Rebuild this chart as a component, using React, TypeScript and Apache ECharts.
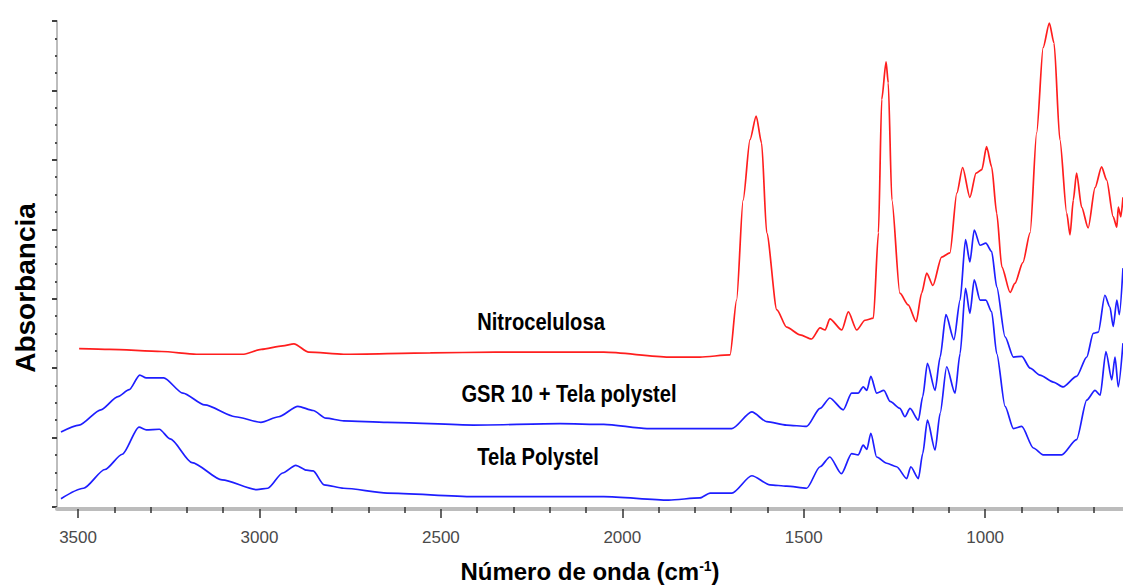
import React, { useEffect, useRef } from "react";
import * as echarts from "echarts";

// Wavenumber axis (cm-1), drawn reversed
const xMin = 620;
const xMax = 3558;
const majorTicks = [1000, 1500, 2000, 2500, 3000, 3500];
const minorTicks = [
  700, 800, 900, 1100, 1200, 1300, 1400, 1600, 1700, 1800, 1900, 2100, 2200,
  2300, 2400, 2600, 2700, 2800, 2900, 3100, 3200, 3300, 3400,
];
const yMin = 0;
const yMax = 7;

const seriesNames = ["Nitrocelulosa", "GSR 10 + Tela polystel", "Tela Polystel"];

// [wavenumber, absorbance (arbitrary, offset)]
const nitrocelulosa: [number, number][] = [
  [3497, 2.28], [3413, 2.27], [3270, 2.24], [3174, 2.2], [3043, 2.2], [2995, 2.27],
  [2936, 2.32], [2905, 2.35], [2864, 2.23], [2768, 2.2], [2529, 2.22], [2350, 2.23],
  [2051, 2.23], [1872, 2.16], [1786, 2.16], [1703, 2.19], [1685, 2.98], [1667, 4.42],
  [1648, 5.29], [1631, 5.63], [1616, 5.24], [1602, 3.95], [1574, 2.84], [1547, 2.59],
  [1510, 2.48], [1478, 2.42], [1455, 2.58], [1441, 2.55], [1428, 2.71], [1395, 2.55],
  [1377, 2.81], [1354, 2.55], [1331, 2.69], [1308, 2.72], [1294, 3.95], [1285, 5.87],
  [1273, 6.41], [1267, 6.11], [1257, 4.42], [1235, 3.08], [1212, 2.91], [1190, 2.67],
  [1175, 3.08], [1161, 3.37], [1144, 3.19], [1120, 3.6], [1097, 3.66], [1078, 4.52],
  [1062, 4.89], [1042, 4.46], [1025, 4.81], [1009, 4.86], [996, 5.19], [982, 4.9],
  [968, 4.23], [954, 3.46], [931, 3.09], [918, 3.22], [896, 3.52], [876, 3.95],
  [858, 5.39], [840, 6.62], [823, 6.97], [810, 6.68], [794, 5.29], [775, 4.23],
  [766, 3.92], [757, 4.42], [748, 4.81], [734, 4.32], [716, 4.02], [697, 4.6],
  [679, 4.9], [665, 4.71], [647, 4.18], [637, 4.03], [633, 4.32], [626, 4.18], [620, 4.46],
];

const gsrTela: [number, number][] = [
  [3547, 1.08], [3497, 1.18], [3437, 1.4], [3390, 1.59], [3359, 1.69], [3330, 1.9],
  [3312, 1.86], [3264, 1.86], [3211, 1.64], [3151, 1.47], [3067, 1.3], [2996, 1.22],
  [2947, 1.3], [2894, 1.45], [2852, 1.39], [2817, 1.28], [2768, 1.24], [2648, 1.22],
  [2410, 1.18], [2171, 1.2], [2051, 1.19], [1932, 1.13], [1786, 1.13], [1698, 1.13],
  [1643, 1.37], [1602, 1.23], [1547, 1.18], [1492, 1.16], [1455, 1.42], [1428, 1.57],
  [1391, 1.4], [1368, 1.64], [1350, 1.64], [1336, 1.73], [1326, 1.68], [1315, 1.88],
  [1299, 1.64], [1279, 1.68], [1262, 1.52], [1235, 1.42], [1221, 1.3], [1207, 1.42],
  [1184, 1.25], [1172, 1.59], [1159, 2.07], [1138, 1.68], [1124, 2.16], [1108, 2.77],
  [1086, 2.41], [1069, 2.98], [1054, 3.85], [1042, 3.53], [1030, 3.99], [1014, 3.77],
  [998, 3.8], [982, 3.68], [968, 3.17], [945, 2.45], [922, 2.16], [899, 2.17],
  [876, 2.0], [849, 1.9], [812, 1.8], [785, 1.73], [748, 1.88], [720, 2.16],
  [702, 2.5], [688, 2.52], [670, 3.05], [656, 2.88], [647, 2.6], [637, 2.98],
  [630, 2.77], [620, 3.44],
];

const telaPolystel: [number, number][] = [
  [3547, 0.12], [3485, 0.27], [3426, 0.54], [3378, 0.76], [3332, 1.15], [3312, 1.11],
  [3276, 1.12], [3246, 0.98], [3186, 0.64], [3103, 0.39], [3007, 0.25], [2977, 0.27],
  [2936, 0.49], [2900, 0.6], [2870, 0.53], [2852, 0.52], [2822, 0.32], [2768, 0.27],
  [2648, 0.2], [2410, 0.15], [2171, 0.15], [2051, 0.15], [1872, 0.1], [1786, 0.13],
  [1758, 0.2], [1698, 0.2], [1643, 0.45], [1593, 0.32], [1547, 0.3], [1492, 0.27],
  [1455, 0.58], [1428, 0.72], [1396, 0.48], [1368, 0.77], [1350, 0.75], [1336, 0.89],
  [1326, 0.83], [1315, 1.06], [1299, 0.72], [1271, 0.63], [1244, 0.58], [1216, 0.41],
  [1205, 0.58], [1184, 0.41], [1172, 0.77], [1159, 1.25], [1138, 0.82], [1124, 1.35],
  [1106, 2.02], [1083, 1.64], [1069, 2.21], [1054, 3.15], [1042, 2.79], [1030, 3.27],
  [1014, 2.98], [998, 2.98], [982, 2.81], [968, 2.21], [945, 1.45], [922, 1.13],
  [899, 1.16], [867, 0.85], [840, 0.75], [789, 0.75], [748, 0.97], [720, 1.54],
  [697, 1.68], [683, 1.61], [667, 2.24], [651, 1.83], [642, 2.16], [633, 1.73], [620, 2.36],
];

const RED = "#ff1e1e";
const BLUE = "#1e1eff";

export default function App() {
  const ref = useRef<HTMLDivElement>(null);

  useEffect(() => {
    if (!ref.current) return;
    const chart = echarts.init(ref.current, null, { renderer: "svg" });
    const sans = '"Liberation Sans", Arial, Helvetica, sans-serif';

    const gridTop = 21;
    const gridBottom = 78;
    const plotH = 585 - gridTop - gridBottom;
    const axisOffset = 2;

    const mkSeries = (name: string, data: [number, number][], color: string) => ({
      type: "line",
      name,
      data,
      xAxisIndex: 0,
      yAxisIndex: 0,
      symbol: "none",
      showSymbol: false,
      smooth: 0.25,
      smoothMonotone: "x",
      silent: true,
      lineStyle: { color, width: 1.7 },
      itemStyle: { color },
    });

    const seriesLabel = (text: string, x: number, y: number) => ({
      type: "text",
      x,
      y,
      scaleX: 0.84,
      style: {
        text,
        fontFamily: sans,
        fontSize: 24,
        fontWeight: "bold",
        fill: "#000",
        align: "center",
        verticalAlign: "middle",
      },
    });

    chart.setOption({
      animation: false,
      backgroundColor: "#ffffff",
      grid: { left: 57, right: 0, top: gridTop, bottom: gridBottom, containLabel: false },
      xAxis: [
        {
          type: "value",
          position: "bottom",
          z: 1,
          min: xMin,
          max: xMax,
          inverse: true,
          offset: axisOffset,
          splitLine: { show: false },
          axisLine: { show: true, onZero: false, lineStyle: { color: "#bcbcbc", width: 4 } },
          axisTick: {
            show: true,
            customValues: majorTicks,
            length: 9,
            lineStyle: { color: "#333333", width: 1.5 },
          },
          axisLabel: {
            show: true,
            customValues: majorTicks,
            margin: 20,
            color: "#4a4a4a",
            fontFamily: sans,
            fontSize: 17,
            formatter: (v: number) => String(v),
          },
        },
        {
          // minor ticks: a second axis moved down onto the bottom edge, drawn above the bar
          type: "value",
          position: "top",
          z: 6,
          min: xMin,
          max: xMax,
          inverse: true,
          offset: -plotH,
          splitLine: { show: false },
          axisLine: { show: false, onZero: false },
          axisTick: {
            show: true,
            inside: true,
            customValues: minorTicks,
            length: 6,
            lineStyle: { color: "#333333", width: 1.5 },
          },
          axisLabel: { show: false },
        },
      ],
      yAxis: {
        type: "value",
        min: yMin,
        max: yMax,
        interval: 1,
        splitLine: { show: false },
        axisLine: { show: true, lineStyle: { color: "#bdbdbd", width: 2 } },
        axisTick: { show: true, length: 5, lineStyle: { color: "#404040", width: 2 } },
        minorTick: { show: true, splitNumber: 4, length: 2, lineStyle: { color: "#505050", width: 2 } },
        axisLabel: { show: false },
      },
      series: [
        mkSeries(seriesNames[0], nitrocelulosa, RED),
        mkSeries(seriesNames[1], gsrTela, BLUE),
        mkSeries(seriesNames[2], telaPolystel, BLUE),
      ],
      graphic: [
        seriesLabel(seriesNames[0], 541, 322),
        seriesLabel(seriesNames[1], 569, 394),
        seriesLabel(seriesNames[2], 538, 457),
        {
          type: "text",
          x: 590,
          y: 571,
          style: {
            text: "Número de onda (cm{sup|-1})",
            fontFamily: sans,
            fontSize: 24,
            fontWeight: "bold",
            fill: "#000",
            align: "center",
            verticalAlign: "middle",
            rich: {
              sup: {
                fontFamily: sans,
                fontSize: 14,
                fontWeight: "bold",
                fill: "#000",
                verticalAlign: "top",
              },
            },
          },
        },
        {
          type: "text",
          x: 25,
          y: 288,
          rotation: Math.PI / 2,
          style: {
            text: "Absorbancia",
            fontFamily: sans,
            fontSize: 28,
            fontWeight: "bold",
            fill: "#000",
            align: "center",
            verticalAlign: "middle",
          },
        },
      ],
    });

    return () => chart.dispose();
  }, []);

  return (
    <div
      ref={ref}
      style={{ position: "absolute", left: 0, top: 0, width: 1123, height: 585, background: "#fff" }}
    />
  );
}
